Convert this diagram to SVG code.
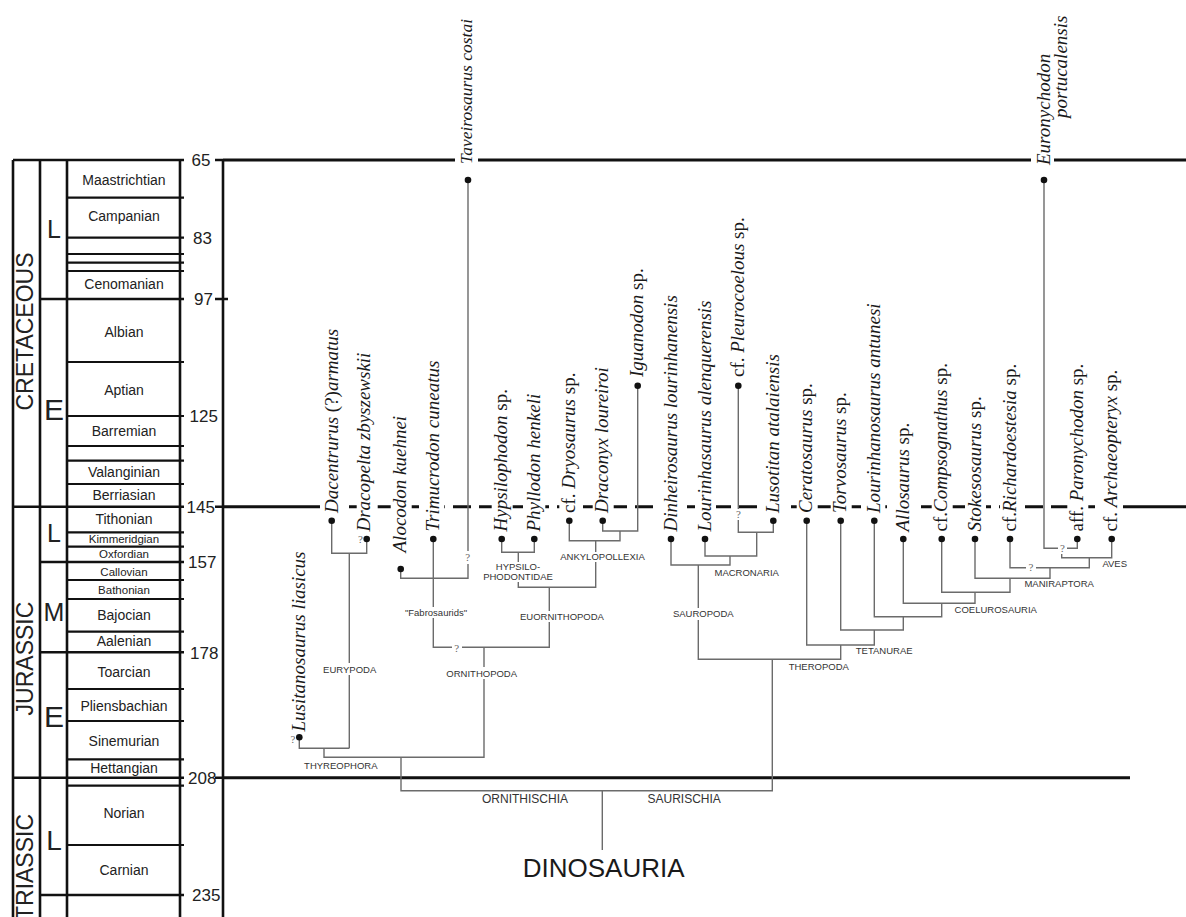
<svg xmlns="http://www.w3.org/2000/svg" width="1186" height="917" viewBox="0 0 1186 917">
<defs>
<style>
.ax{stroke:#111;stroke-width:2.6;fill:none}
.sl{stroke:#111;stroke-width:2.2;fill:none}
.hz{stroke:#111;stroke-width:3;fill:none}
.stg{font-family:"Liberation Sans",Arial,sans-serif;font-size:14px;fill:#222;text-anchor:middle}
.sm{font-size:11.5px}
.per{font-family:"Liberation Sans",Arial,sans-serif;font-size:23px;fill:#222;text-anchor:middle}
.ep{font-family:"Liberation Sans",Arial,sans-serif;fill:#222;text-anchor:middle}
.num{font-family:"Liberation Sans",Arial,sans-serif;font-size:17px;fill:#222}
.br{stroke:#6b6b6b;stroke-width:1.4;fill:none}
.dot{fill:#111}
.tx{font-family:"Liberation Serif","Times New Roman",serif;font-size:19px;font-style:italic;fill:#1a1a1a}
.up{font-style:normal}
.bg{fill:#fff}
.cl{font-family:"Liberation Sans",Arial,sans-serif;font-size:9.5px;fill:#333;text-anchor:middle}
.big{font-family:"Liberation Sans",Arial,sans-serif;font-size:12px;fill:#333;text-anchor:middle}
.dino{font-family:"Liberation Sans",Arial,sans-serif;font-size:26px;fill:#1a1a1a;text-anchor:middle}
.q{font-family:"Liberation Serif",serif;font-size:11px;fill:#666;text-anchor:middle}
</style>
</defs>
<rect width="1186" height="917" fill="#fff"/>

<g id="timescale">
<path class="ax" d="M13,160V917M40,160V917M67,160V917M180,160V917M223,160V917"/>
<path class="ax" d="M13,160H184M13,506.7H184M13,777.7H184M40,299H184M40,562H184M40,652.3H184M40,895H184"/>
<path class="sl" d="M67,197.7H184M67,237.7H184M67,254H184M67,262.7H184M67,271H184M67,362H184M67,416H184M67,446H184M67,460.7H184M67,484H184M67,532.3H184M67,546.7H184M67,580H184M67,599H184M67,631.7H184M67,689H184M67,721H184M67,759.3H184M67,785.7H184M67,845H184"/>
<path class="ax" d="M215,160H223M215,299H228M215,506.7H223M215,777.7H223"/>
<text class="per" transform="translate(33.3,331.5) rotate(-90)">CRETACEOUS</text>
<text class="per" transform="translate(33.3,658.5) rotate(-90)">JURASSIC</text>
<text class="per" transform="translate(33.3,867) rotate(-90)">TRIASSIC</text>
<text class="ep" x="54" y="238" style="font-size:25px">L</text>
<text class="ep" x="54" y="420" style="font-size:30px">E</text>
<text class="ep" x="54" y="542" style="font-size:25px">L</text>
<text class="ep" x="54" y="621" style="font-size:25px">M</text>
<text class="ep" x="54" y="726.7" style="font-size:30px">E</text>
<text class="ep" x="54" y="850" style="font-size:28px">L</text>
<text class="stg" x="124" y="185">Maastrichtian</text>
<text class="stg" x="124" y="221">Campanian</text>
<text class="stg" x="124" y="289">Cenomanian</text>
<text class="stg" x="124" y="337">Albian</text>
<text class="stg" x="124" y="395">Aptian</text>
<text class="stg" x="124" y="436">Barremian</text>
<text class="stg" x="124" y="477">Valanginian</text>
<text class="stg" x="124" y="500">Berriasian</text>
<text class="stg" x="124" y="524">Tithonian</text>
<text class="stg sm" x="124" y="543">Kimmeridgian</text>
<text class="stg sm" x="124" y="558">Oxfordian</text>
<text class="stg sm" x="124" y="575.5">Callovian</text>
<text class="stg sm" x="124" y="593.5">Bathonian</text>
<text class="stg" x="124" y="620">Bajocian</text>
<text class="stg" x="124" y="646">Aalenian</text>
<text class="stg" x="124" y="676.5">Toarcian</text>
<text class="stg" x="124" y="710.5">Pliensbachian</text>
<text class="stg" x="124" y="745.5">Sinemurian</text>
<text class="stg" x="124" y="773">Hettangian</text>
<text class="stg" x="124" y="818">Norian</text>
<text class="stg" x="124" y="875">Carnian</text>
<text class="num" x="191.5" y="166">65</text>
<text class="num" x="193" y="244">83</text>
<text class="num" x="194" y="305">97</text>
<text class="num" x="189.5" y="422">125</text>
<text class="num" x="186.5" y="513">145</text>
<text class="num" x="188" y="568">157</text>
<text class="num" x="190" y="658.5">178</text>
<text class="num" x="188" y="784">208</text>
<text class="num" x="192" y="901">235</text>
</g>

<g id="horizons">
<path class="hz" d="M223,160H455M478,160H1031M1054,160H1186"/>
<path class="hz" d="M223,506.7H320M1123,506.7H1186"/>
<path class="hz" stroke-dasharray="18 8" d="M323,506.7H1123"/>
<path class="hz" d="M223,777.7H1130"/>
</g>

<g id="connectors">
<path class="br" d="M299.3,737.3V748.3H349.3"/>
<path class="br" d="M349.3,553.3V748.3"/>
<path class="br" d="M331.7,520.7V553.3H366.7V539"/>
<path class="br" d="M324,748.3V757.3H484V647.3"/>
<path class="br" d="M433.3,539V647.3H549.3V587.3"/>
<path class="br" d="M400.7,569V578.3H468V180"/>
<path class="br" d="M518.3,552.3V587.3H595.7V540.7"/>
<path class="br" d="M501.7,539V552.3H534.3V539"/>
<path class="br" d="M569.3,520.7V540.7H620V531"/>
<path class="br" d="M602.7,520.7V531H637.7V385.7"/>
<path class="br" d="M401,757.3V790.7H772.3V659.3"/>
<path class="br" d="M602.3,790.7V850"/>
<path class="br" d="M698.3,565V659.3H840.7V645"/>
<path class="br" d="M671,539V565H730V556"/>
<path class="br" d="M705,539V556H756.7V532.3"/>
<path class="br" d="M738.3,385.7V532.3H773.3V520.7"/>
<path class="br" d="M806.7,520.7V645H874.3V630"/>
<path class="br" d="M840.7,520.7V630H903.3V616.7"/>
<path class="br" d="M874.3,520.7V616.7H941.7V603.3"/>
<path class="br" d="M903.3,539V603.3H975V592.3"/>
<path class="br" d="M941.7,539V592.3H1010V578.3"/>
<path class="br" d="M975,539V578.3H1050V567.7"/>
<path class="br" d="M1010,539V567.7H1089.3V557.7"/>
<path class="br" d="M1044,180V548.3H1077.3V539"/>
<path class="br" d="M1061.7,548.3V557.7H1111.7V539"/>
</g>

<g id="question-marks">
<text class="q" x="293" y="742.5">?</text>
<text class="q" x="360.5" y="542.7">?</text>
<rect class="bg" x="463" y="551" width="10" height="13"/><text class="q" x="467.8" y="560.5">?</text>
<rect class="bg" x="452" y="643" width="10" height="10"/><text class="q" x="456.8" y="651.5">?</text>
<rect class="bg" x="734" y="509" width="10" height="11"/><text class="q" x="738.5" y="518.3">?</text>
<rect class="bg" x="1026" y="562" width="10" height="10"/><text class="q" x="1031" y="570.5">?</text>
<rect class="bg" x="1058" y="544" width="9" height="10"/><text class="q" x="1062.5" y="552">?</text>
</g>

<g id="clade-labels">
<g id="hypsilophodontidae"><rect class="bg" x="482" y="562" width="72" height="20"/><text class="cl" x="518" y="570">HYPSILO-</text><text class="cl" x="518" y="580">PHODONTIDAE</text></g>
<g id="ankylopollexia"><rect class="bg" x="559" y="552" width="87" height="10"/><text class="cl" x="602.5" y="560">ANKYLOPOLLEXIA</text></g>
<g id="euornithopoda"><rect class="bg" x="518" y="611" width="88" height="11"/><text class="cl" x="562" y="620">EUORNITHOPODA</text></g>
<g id="fabrosaurids"><rect class="bg" x="405" y="607" width="62" height="11"/><text class="cl" x="436" y="616">"Fabrosaurids"</text></g>
<g id="ornithopoda"><rect class="bg" x="446" y="667" width="72" height="12"/><text class="cl" x="481.7" y="676.7">ORNITHOPODA</text></g>
<g id="eurypoda"><rect class="bg" x="322" y="663" width="56" height="12"/><text class="cl" x="349.7" y="672.7">EURYPODA</text></g>
<g id="thyreophora"><text class="cl" x="340.8" y="768.7">THYREOPHORA</text></g>
<g id="sauropoda"><rect class="bg" x="672" y="608" width="63" height="12"/><text class="cl" x="703.3" y="617.3">SAUROPODA</text></g>
<g id="macronaria"><text class="cl" x="746.7" y="576">MACRONARIA</text></g>
<g id="theropoda"><text class="cl" x="818.8" y="670">THEROPODA</text></g>
<g id="tetanurae"><text class="cl" x="884.2" y="654.3">TETANURAE</text></g>
<g id="coelurosauria"><text class="cl" x="995.8" y="613.3">COELUROSAURIA</text></g>
<g id="maniraptora"><text class="cl" x="1059.2" y="587.3">MANIRAPTORA</text></g>
<g id="aves"><text class="cl" x="1114.7" y="567.3">AVES</text></g>
<g id="ornithischia"><text class="big" x="525" y="803.3">ORNITHISCHIA</text></g>
<g id="saurischia"><text class="big" x="684.2" y="803.3">SAURISCHIA</text></g>
<g id="dinosauria"><text class="dino" x="603.7" y="877.3">DINOSAURIA</text></g>
</g>

<g id="taxa">
<g id="lusitanosaurus"><circle class="dot" cx="299.3" cy="737.3" r="3.3"/><text class="tx" transform="translate(305,731.5) rotate(-90)">Lusitanosaurus liasicus</text></g>
<g id="dacentrurus"><rect class="bg" x="321.7" y="499" width="21" height="15"/><circle class="dot" cx="331.7" cy="520.7" r="3.3"/><text class="tx" transform="translate(337.5,513) rotate(-90)">Dacentrurus <tspan class="up">(?)</tspan>armatus</text></g>
<g id="dracopelta"><rect class="bg" x="356.7" y="499" width="21" height="15"/><circle class="dot" cx="366.7" cy="539" r="3.3"/><text class="tx" transform="translate(370,531.5) rotate(-90)">Dracopelta zbyszewskii</text></g>
<g id="alocodon"><rect class="bg" x="390.7" y="499" width="21" height="15"/><circle class="dot" cx="400.7" cy="569" r="3.3"/><text class="tx" transform="translate(406.2,552.5) rotate(-90)">Alocodon kuehnei</text></g>
<g id="trimucrodon"><rect class="bg" x="423.3" y="499" width="21" height="15"/><circle class="dot" cx="433.3" cy="539" r="3.3"/><text class="tx" transform="translate(438.8,531.5) rotate(-90)">Trimucrodon cuneatus</text></g>
<g id="taveirosaurus"><circle class="dot" cx="468" cy="180" r="3.3"/><text class="tx" style="font-size:17.5px" transform="translate(472,164) rotate(-90)">Taveirosaurus costai</text></g>
<g id="hypsilophodon"><rect class="bg" x="491.7" y="499" width="21" height="15"/><circle class="dot" cx="501.7" cy="539" r="3.3"/><text class="tx" transform="translate(507.2,531.5) rotate(-90)">Hypsilophodon<tspan class="up"> sp.</tspan></text></g>
<g id="phyllodon"><rect class="bg" x="524.3" y="499" width="21" height="15"/><circle class="dot" cx="534.3" cy="539" r="3.3"/><text class="tx" transform="translate(539.8,531.5) rotate(-90)">Phyllodon henkeli</text></g>
<g id="dryosaurus"><rect class="bg" x="559.3" y="499" width="21" height="15"/><circle class="dot" cx="569.3" cy="520.7" r="3.3"/><text class="tx" transform="translate(574.8,513) rotate(-90)"><tspan class="up">cf. </tspan>Dryosaurus<tspan class="up"> sp.</tspan></text></g>
<g id="draconyx"><rect class="bg" x="592.7" y="499" width="21" height="15"/><circle class="dot" cx="602.7" cy="520.7" r="3.3"/><text class="tx" transform="translate(608.2,513) rotate(-90)">Draconyx loureiroi</text></g>
<g id="iguanodon"><circle class="dot" cx="637.7" cy="385.7" r="3.3"/><text class="tx" transform="translate(643.2,377) rotate(-90)">Iguanodon<tspan class="up"> sp.</tspan></text></g>
<g id="dinheirosaurus"><rect class="bg" x="661" y="499" width="21" height="15"/><circle class="dot" cx="671" cy="539" r="3.3"/><text class="tx" transform="translate(676.5,531.5) rotate(-90)">Dinheirosaurus lourinhanensis</text></g>
<g id="lourinhasaurus"><rect class="bg" x="695" y="499" width="21" height="15"/><circle class="dot" cx="705" cy="539" r="3.3"/><text class="tx" transform="translate(710.5,531.5) rotate(-90)">Lourinhasaurus alenquerensis</text></g>
<g id="pleurocoelous"><circle class="dot" cx="738.3" cy="385.7" r="3.3"/><text class="tx" transform="translate(743.8,377) rotate(-90)"><tspan class="up">cf. </tspan>Pleurocoelous<tspan class="up"> sp.</tspan></text></g>
<g id="lusotitan"><rect class="bg" x="763.3" y="499" width="21" height="15"/><circle class="dot" cx="773.3" cy="520.7" r="3.3"/><text class="tx" transform="translate(778.8,513) rotate(-90)">Lusotitan atalaiensis</text></g>
<g id="ceratosaurus"><rect class="bg" x="796.7" y="499" width="21" height="15"/><circle class="dot" cx="806.7" cy="520.7" r="3.3"/><text class="tx" transform="translate(812.2,513) rotate(-90)">Ceratosaurus<tspan class="up"> sp.</tspan></text></g>
<g id="torvosaurus"><rect class="bg" x="830.7" y="499" width="21" height="15"/><circle class="dot" cx="840.7" cy="520.7" r="3.3"/><text class="tx" transform="translate(846.2,513) rotate(-90)">Torvosaurus<tspan class="up"> sp.</tspan></text></g>
<g id="lourinhanosaurus"><rect class="bg" x="864.3" y="499" width="21" height="15"/><circle class="dot" cx="874.3" cy="520.7" r="3.3"/><text class="tx" transform="translate(879.8,513) rotate(-90)">Lourinhanosaurus antunesi</text></g>
<g id="allosaurus"><rect class="bg" x="893.3" y="499" width="21" height="15"/><circle class="dot" cx="903.3" cy="539" r="3.3"/><text class="tx" transform="translate(908.8,531.5) rotate(-90)">Allosaurus<tspan class="up"> sp.</tspan></text></g>
<g id="compsognathus"><rect class="bg" x="931.7" y="499" width="21" height="15"/><circle class="dot" cx="941.7" cy="539" r="3.3"/><text class="tx" transform="translate(947.2,531.5) rotate(-90)"><tspan class="up">cf.</tspan>Compsognathus<tspan class="up"> sp.</tspan></text></g>
<g id="stokesosaurus"><rect class="bg" x="965" y="499" width="21" height="15"/><circle class="dot" cx="975" cy="539" r="3.3"/><text class="tx" transform="translate(980.5,531.5) rotate(-90)">Stokesosaurus<tspan class="up"> sp.</tspan></text></g>
<g id="richardoestesia"><rect class="bg" x="1000" y="499" width="21" height="15"/><circle class="dot" cx="1010" cy="539" r="3.3"/><text class="tx" transform="translate(1015.5,531.5) rotate(-90)"><tspan class="up">cf.</tspan>Richardoestesia<tspan class="up"> sp.</tspan></text></g>
<g id="euronychodon"><circle class="dot" cx="1044" cy="180" r="3.3"/><text class="tx" transform="translate(1049.5,165) rotate(-90)">Euronychodon</text><text class="tx" transform="translate(1067,118) rotate(-90)">portucalensis</text></g>
<g id="paronychodon"><rect class="bg" x="1067.3" y="499" width="21" height="15"/><circle class="dot" cx="1077.3" cy="539" r="3.3"/><text class="tx" transform="translate(1082.8,531.5) rotate(-90)"><tspan class="up">aff. </tspan>Paronychodon<tspan class="up"> sp.</tspan></text></g>
<g id="archaeopteryx"><rect class="bg" x="1101.7" y="499" width="21" height="15"/><circle class="dot" cx="1111.7" cy="539" r="3.3"/><text class="tx" transform="translate(1117.2,531.5) rotate(-90)"><tspan class="up">cf. </tspan>Archaeopteryx<tspan class="up"> sp.</tspan></text></g>
</g>
</svg>
